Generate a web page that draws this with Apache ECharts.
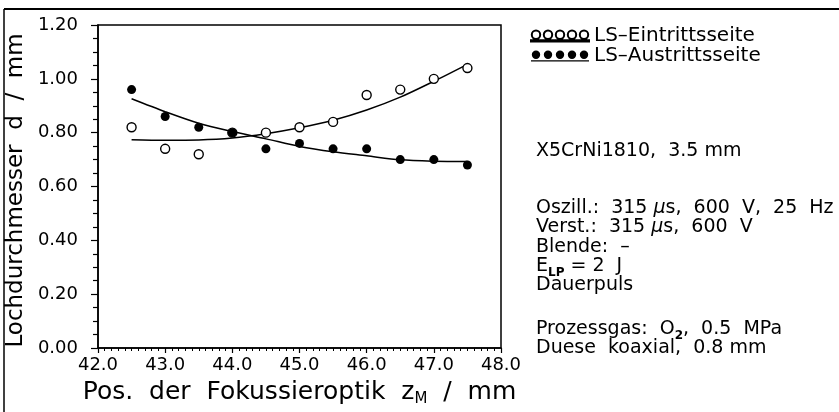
<!DOCTYPE html>
<html>
<head>
<meta charset="utf-8">
<script src="https://cdn.jsdelivr.net/npm/echarts@6/dist/echarts.min.js"></script>
<style>
html,body{margin:0;padding:0;background:#fff;}
#chart{width:839px;height:412px;}
</style>
</head>
<body>
<div id="chart"></div>
<script>
// ---- data ----
const xPos = [42.5, 43.0, 43.5, 44.0, 44.5, 45.0, 45.5, 46.0, 46.5, 47.0, 47.5];
const eintritt = [0.82, 0.74, 0.72, 0.80, 0.80, 0.82, 0.84, 0.94, 0.96, 1.00, 1.04];
const austritt = [0.96, 0.86, 0.82, 0.80, 0.74, 0.76, 0.74, 0.74, 0.70, 0.70, 0.68];
const eintrittFit = [0.774, 0.772, 0.773, 0.780, 0.796, 0.818, 0.846, 0.884, 0.932, 0.991, 1.054];
const austrittFit = [0.926, 0.878, 0.835, 0.804, 0.777, 0.749, 0.729, 0.714, 0.699, 0.694, 0.693];
const seriesNames = ['LS\u2013Eintrittsseite', 'LS\u2013Austrittsseite'];
const xAxisName = '{a|Pos.  der  Fokussieroptik  z}{s|M}{a|  /  mm}';
const yAxisName = 'Lochdurchmesser  d  /  mm';
const infoLines = [
  '{a|X5CrNi1810,  3.5 mm}',
  '{a|Oszill.:  315 }{i|\u03bc}{a|s,  600  V,  25  Hz}',
  '{a|Verst.:  315 }{i|\u03bc}{a|s,  600  V}',
  '{a|Blende:  \u2013}',
  '{a|E}{s|LP}{a| = 2  J}',
  '{a|Dauerpuls}',
  '{a|Prozessgas:  O}{s|2}{a|,  0.5  MPa}',
  '{a|Duese  koaxial,  0.8 mm}'
];
const infoY = [153, 210, 229, 249, 268, 287, 331, 350];

const FONT = 'DejaVu Sans';
const pairs = (xs, ys) => xs.map((x, i) => [x, ys[i]]);

function legendPath() {
  let p = '';
  [5, 17, 29, 41, 53].forEach(cx => {
    p += 'M' + (cx - 4.2) + ',5A4.2,4.2,0,1,1,' + (cx + 4.2) + ',5A4.2,4.2,0,1,1,' + (cx - 4.2) + ',5Z';
  });
  p += 'M0,10.5L58,10.5L58,11.6L0,11.6Z';
  return 'path://' + p;
}

const richInfo = {
  a: {fontSize: 19, fontFamily: FONT, color: '#000', lineHeight: 22, verticalAlign: 'top'},
  i: {fontSize: 19, fontFamily: FONT, color: '#000', lineHeight: 22, verticalAlign: 'top', fontStyle: 'italic'},
  s: {fontSize: 12, fontFamily: FONT, color: '#000', lineHeight: 12, verticalAlign: 'bottom', fontWeight: 'bold'}
};

const graphics = [
  {type: 'line', shape: {x1: 4, y1: 9, x2: 839, y2: 9}, style: {stroke: '#000', lineWidth: 2}},
  {type: 'line', shape: {x1: 4, y1: 9, x2: 4, y2: 412}, style: {stroke: '#000', lineWidth: 1.5}}
];
infoLines.forEach((t, i) => {
  graphics.push({
    type: 'text', x: 536, y: infoY[i] - 11,
    style: {text: t, rich: richInfo, fill: '#000', verticalAlign: 'top'}
  });
});

const chart = echarts.init(document.getElementById('chart'), null, {renderer: 'canvas'});
chart.setOption({
  animation: false,
  backgroundColor: '#fff',
  textStyle: {fontFamily: FONT, color: '#000'},
  grid: {left: 98, top: 25, right: 338, bottom: 58, show: true, borderColor: '#000', borderWidth: 1.5, backgroundColor: 'transparent'},
  legend: {
    orient: 'vertical', left: 530, top: 26, padding: 0, itemGap: 0,
    itemWidth: 58, itemHeight: 11,
    textStyle: {fontSize: 20, fontFamily: FONT, color: '#000', lineHeight: 19},
    data: [
      {name: seriesNames[0], icon: legendPath()},
      {name: seriesNames[1], icon: legendPath()}
    ],
    selectedMode: false
  },
  xAxis: {
    type: 'value', min: 42, max: 48, interval: 1,
    name: xAxisName, nameLocation: 'middle', nameGap: 32,
    nameTextStyle: {
      rich: {
        a: {fontSize: 25, fontFamily: FONT, color: '#000', lineHeight: 27, verticalAlign: 'top'},
        s: {fontSize: 15, fontFamily: FONT, color: '#000', lineHeight: 15, verticalAlign: 'bottom'}
      }
    },
    axisLine: {lineStyle: {color: '#000', width: 1.5}},
    axisTick: {length: 5, lineStyle: {color: '#000', width: 1.2}},
    minorTick: {show: true, splitNumber: 10, length: 3, lineStyle: {color: '#000', width: 1}},
    splitLine: {show: false},
    axisLabel: {fontSize: 18, fontFamily: FONT, color: '#000', margin: 8, formatter: v => v.toFixed(1)}
  },
  yAxis: {
    type: 'value', min: 0, max: 1.2, interval: 0.2,
    name: yAxisName, nameLocation: 'middle', nameGap: 70,
    nameTextStyle: {fontSize: 23, fontFamily: FONT, color: '#000', padding: [0, 8, 0, 0]},
    axisLine: {show: true, lineStyle: {color: '#000', width: 1.5}},
    axisTick: {show: true, length: 7, lineStyle: {color: '#000', width: 1.2}},
    minorTick: {show: true, splitNumber: 4, length: 5, lineStyle: {color: '#000', width: 1.2}},
    splitLine: {show: false},
    axisLabel: {fontSize: 18, fontFamily: FONT, color: '#000', margin: 20, formatter: v => v.toFixed(2)}
  },
  series: [
    {type: 'line', name: 'fitE', data: pairs(xPos, eintrittFit), smooth: 0.3, showSymbol: false, symbol: 'none',
     lineStyle: {color: '#000', width: 1.5}, z: 2, silent: true},
    {type: 'line', name: 'fitA', data: pairs(xPos, austrittFit), smooth: 0.3, showSymbol: false, symbol: 'none',
     lineStyle: {color: '#000', width: 1.5}, z: 2, silent: true},
    {type: 'scatter', name: seriesNames[0], data: pairs(xPos, eintritt), symbol: 'circle', symbolSize: 9,
     itemStyle: {color: '#fff', borderColor: '#000', borderWidth: 1.4, opacity: 1}, z: 3},
    {type: 'scatter', name: seriesNames[1], data: pairs(xPos, austritt), symbol: 'circle', symbolSize: 9,
     itemStyle: {color: '#000', borderColor: '#000', borderWidth: 0, opacity: 1}, z: 4}
  ],
  graphic: graphics
});
</script>
</body>
</html>
